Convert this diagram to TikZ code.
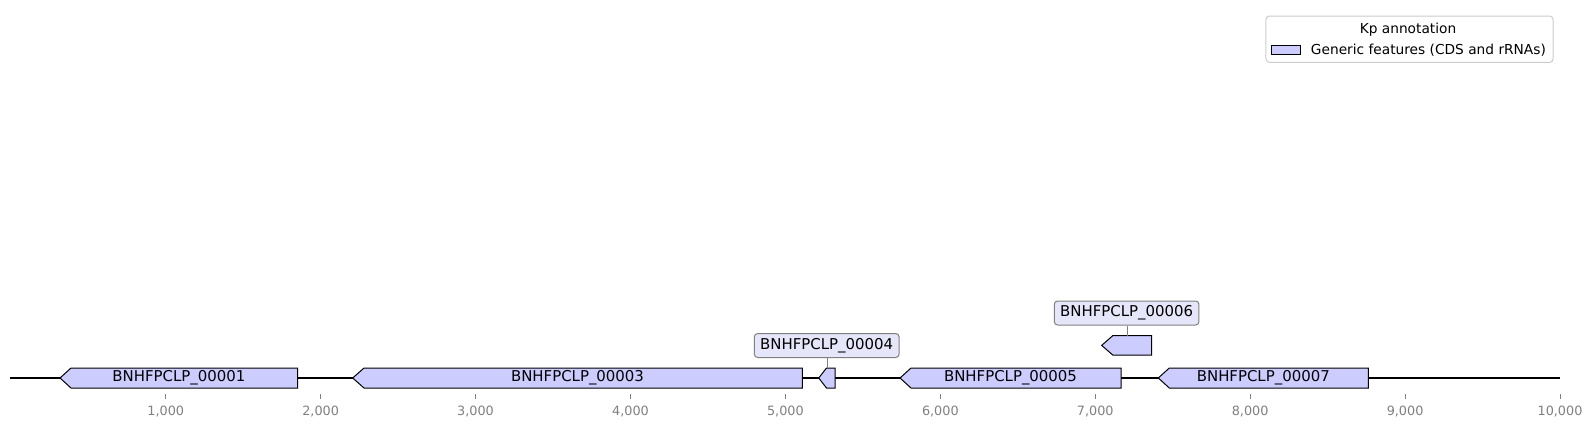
\documentclass[tikz,border=0pt]{standalone}
\usepackage{fontspec}
\setmainfont{DejaVu Sans}
\definecolor{featfill}{HTML}{CCCCFF}
\definecolor{labfill}{HTML}{E6E6FA}
\definecolor{labdraw}{HTML}{808080}
\definecolor{tickgray}{HTML}{808080}
\definecolor{legdraw}{HTML}{CCCCCC}
\begin{document}
\begin{tikzpicture}[x=0.75pt,y=-0.75pt,
  feat/.style={draw=black,fill=featfill,line width=0.75pt,line join=miter},
  flabel/.style={font=\fontsize{11.2}{13}\selectfont,inner sep=0pt,anchor=center},
  boxlabel/.style={draw=labdraw,fill=labfill,rounded corners=2.5pt,line width=0.75pt,font=\fontsize{11.2}{13}\selectfont,minimum width=108.5pt,minimum height=18pt,inner sep=0pt},
  ticklab/.style={font=\fontsize{9.6}{11}\selectfont,text=tickgray,anchor=center,inner sep=0pt},
  tickmark/.style={draw=tickgray,line width=0.6pt},
  conn/.style={draw=labdraw,line width=0.6pt}]
\useasboundingbox (0,0) rectangle (1594,428);
% baseline
\coordinate (b0) at (10,378);
\coordinate (b1) at (1560,378);
\draw[line width=1.5pt] (b0) -- (b1);
% features
\draw[feat] (60,378) -- (71,368) -- (297.7,368) -- (297.7,388) -- (71,388) -- cycle;
\draw[feat] (352.7,378) -- (364,368) -- (802.3,368) -- (802.3,388) -- (364,388) -- cycle;
\draw[feat] (818.7,378) -- (826.5,368) -- (835,368) -- (835,388) -- (826.5,388) -- cycle;
\draw[feat] (900,378) -- (911,368) -- (1121,368) -- (1121,388) -- (911,388) -- cycle;
\draw[feat] (1101.7,345.4) -- (1112.7,335.7) -- (1151.7,335.7) -- (1151.7,355) -- (1112.7,355) -- cycle;
\draw[feat] (1158.3,378) -- (1169.3,368) -- (1368.3,368) -- (1368.3,388) -- (1169.3,388) -- cycle;
% inline labels
\node[flabel] (l1) at (178.9,378) {BNHFPCLP\_00001};
\node[flabel] (l3) at (577.5,378) {BNHFPCLP\_00003};
\node[flabel] (l5) at (1010.5,378) {BNHFPCLP\_00005};
\node[flabel] (l7) at (1263.3,378) {BNHFPCLP\_00007};
% boxed labels
\coordinate (f4top) at (827.3,368);
\coordinate (f6top) at (1127.7,335.7);
\node[boxlabel] (l4) at (826.7,345.5) {BNHFPCLP\_00004};
\node[boxlabel] (l6) at (1126.6,313) {BNHFPCLP\_00006};
\draw[conn] (l4.south -| f4top) -- (f4top);
\draw[conn] (l6.south -| f6top) -- (f6top);
% ticks
\foreach \k/\t in {1/{1,000},2/{2,000},3/{3,000},4/{4,000},5/{5,000},6/{6,000},7/{7,000},8/{8,000},9/{9,000},10/{10,000}}{
  \pgfmathsetmacro{\xx}{10.8+154.92*\k}
  \draw[tickmark] (\xx,394.3) -- (\xx,399.3);
  \node[ticklab] (t\k) at (\xx,411) {\t};
}
% legend
\node[draw=legdraw,fill=white,rounded corners=2.5pt,line width=0.75pt,minimum width=215.3pt,minimum height=34.7pt,inner sep=0pt] (leg) at (1409.5,39.2) {};
\node[font=\fontsize{10.3}{12}\selectfont,inner sep=0pt] (legt) at (1408,29.3) {Kp annotation};
\node[draw=black,fill=featfill,line width=0.6pt,minimum width=21.2pt,minimum height=6.4pt,inner sep=0pt] (legp) at (1285.8,50) {};
\node[font=\fontsize{10.3}{12}\selectfont,inner sep=0pt,anchor=west] (legl) at (1310.7,50) {Generic features (CDS and rRNAs)};
\end{tikzpicture}
\end{document}
